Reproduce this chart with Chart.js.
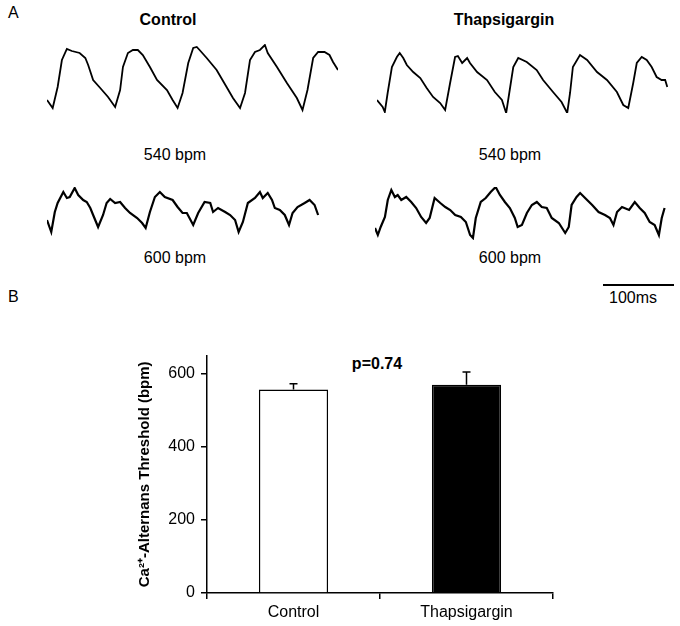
<!DOCTYPE html>
<html>
<head>
<meta charset="utf-8">
<script src="https://cdn.jsdelivr.net/npm/chart.js@4.4.1/dist/chart.umd.min.js"></script>
<style>
  body { margin: 0; background: #fff; }
  #fig { position: relative; width: 680px; height: 626px; font-family: "Liberation Sans", Arial, sans-serif; color: #000; }
  #fig canvas { position: absolute; }
  .lbl { position: absolute; white-space: nowrap; transform: translate(-50%, -50%); font-size: 16px; line-height: 1; }
  .b { font-weight: bold; }
  .panel { position: absolute; font-size: 16px; line-height: 1; }
  #scalebar { position: absolute; left: 603px; top: 284px; width: 71px; height: 2px; background: #000; }
</style>
</head>
<body>
<div id="fig">
  <div class="panel" style="left:8px; top:5px;">A</div>
  <div class="panel" style="left:8px; top:289px;">B</div>
  <div class="lbl b" style="left:168px; top:20px;">Control</div>
  <div class="lbl b" style="left:504px; top:20px;">Thapsigargin</div>
  <div class="lbl" style="left:175px; top:155px;">540 bpm</div>
  <div class="lbl" style="left:510px; top:155px;">540 bpm</div>
  <div class="lbl" style="left:175px; top:258px;">600 bpm</div>
  <div class="lbl" style="left:510px; top:258px;">600 bpm</div>
  <div id="scalebar"></div>
  <div class="lbl" style="left:633px; top:298px;">100ms</div>
  <div class="lbl b" style="left:377px; top:364px;">p=0.74</div>

  <canvas id="c540" width="297" height="75" style="left:44px; top:41px;"></canvas>
  <canvas id="t540" width="297" height="75" style="left:374px; top:41px;"></canvas>
  <canvas id="c600" width="297" height="59" style="left:44px; top:184px;"></canvas>
  <canvas id="t600" width="297" height="59" style="left:372px; top:184px;"></canvas>
  <canvas id="bars" width="680" height="286" style="left:0px; top:340px;"></canvas>
</div>

<script>
// Panel A traces: time (ms) and Ca2+ signal (arbitrary units, trough = 0)
const ctrl540Time = [0,8,15,21,28,35,46,54,58,65,75,86,96,103,107,114,121,128,135,145,155,169,177,184,191,199,206,211,215,225,239,253,262,272,279,286,293,300,307,311,324,338,352,360,367,375,382,391,398,403,410];
const ctrl540Sig  = [13,5,26,53,64,62,60,55,48,33,25,16,6,23,46,60,63,63,58,46,33,23,13,5,20,50,65,66,63,55,43,26,15,5,20,53,61,63,68,60,46,30,15,3,23,55,61,61,58,51,43];

const thap540Time = [0,8,11,15,21,28,32,37,42,51,61,70,79,89,96,103,110,114,120,127,131,141,155,166,176,182,187,192,199,211,225,234,248,260,268,272,276,286,296,310,324,338,347,354,361,366,373,380,387,394,401,406,409];
const thap540Sig  = [13,6,1,20,46,56,60,55,48,41,35,25,16,10,3,30,56,57,50,55,50,41,33,21,13,0,23,46,55,51,43,33,21,11,0,20,46,58,53,41,33,21,8,5,30,50,56,53,46,36,33,33,26];

const ctrl600Time = [0,6,11,15,23,28,32,39,44,51,56,61,65,72,79,84,89,96,103,110,117,127,134,139,145,152,159,166,177,184,191,197,206,213,222,230,234,241,251,258,265,270,276,283,293,300,304,311,317,321,328,335,341,346,353,363,370,377,382];
const ctrl600Sig  = [20,8,28,37,48,42,43,52,45,40,38,32,25,13,25,37,41,37,38,32,27,22,17,12,28,43,48,43,40,33,27,27,15,27,38,37,28,32,28,25,20,8,18,37,42,48,42,47,40,32,30,25,15,27,33,37,40,35,25];

const thap600Time = [0,4,8,14,18,23,28,32,37,44,51,58,65,72,77,84,92,99,106,113,121,128,134,138,142,149,156,163,170,176,183,190,197,201,207,214,221,228,235,242,249,259,268,273,277,284,289,296,306,315,324,331,336,341,348,358,366,373,380,387,394,400,404,408];
const thap600Sig  = [12,5,13,23,40,50,43,45,40,43,38,32,23,17,22,42,37,33,30,25,23,18,5,2,22,38,42,48,53,45,38,32,22,13,15,27,35,38,33,32,22,17,7,13,35,43,47,42,35,28,25,22,15,28,33,30,38,32,27,18,15,5,22,32];

// Panel B
const groups = ['Control', 'Thapsigargin'];
const thresholdMean = [557, 570];
const thresholdErr = [16, 35];
const yTicks = [0, 200, 400, 600];

const FONT = '"Liberation Sans", Arial, sans-serif';

function traceChart(id, times, sig, yMax, lw) {
  const pts = times.map((t, i) => ({ x: t, y: sig[i] }));
  return new Chart(document.getElementById(id), {
    type: 'line',
    data: { datasets: [{ data: pts, borderColor: '#000', borderWidth: lw, pointRadius: 0, tension: 0, fill: false }] },
    options: {
      responsive: false,
      animation: false,
      devicePixelRatio: 1,
      layout: { padding: 3 },
      plugins: { legend: { display: false }, tooltip: { enabled: false } },
      scales: {
        x: { type: 'linear', min: 0, max: 410, display: false },
        y: { min: 0, max: yMax, display: false }
      }
    }
  });
}

traceChart('c540', ctrl540Time, ctrl540Sig, 69, 1.8);
traceChart('t540', thap540Time, thap540Sig, 69, 1.8);
traceChart('c600', ctrl600Time, ctrl600Sig, 53, 2.2);
traceChart('t600', thap600Time, thap600Sig, 53, 2.2);

// upper error bars drawn from the bar scales
const errorBars = {
  id: 'errorBars',
  afterDatasetsDraw(chart) {
    const ctx = chart.ctx;
    const meta = chart.getDatasetMeta(0);
    const y = chart.scales.y;
    ctx.save();
    ctx.strokeStyle = '#000';
    ctx.lineWidth = 1.5;
    meta.data.forEach((bar, i) => {
      const top = y.getPixelForValue(thresholdMean[i] + thresholdErr[i]);
      ctx.beginPath();
      ctx.moveTo(bar.x, bar.y);
      ctx.lineTo(bar.x, top);
      ctx.moveTo(bar.x - 4, top);
      ctx.lineTo(bar.x + 4, top);
      ctx.stroke();
    });
    ctx.restore();
  }
};

new Chart(document.getElementById('bars'), {
  type: 'bar',
  data: {
    labels: groups,
    datasets: [{
      data: thresholdMean,
      backgroundColor: ['#fff', '#000'],
      borderColor: '#000',
      borderWidth: 1.5,
      borderSkipped: 'bottom',
      barPercentage: 0.4,
      categoryPercentage: 1
    }]
  },
  options: {
    responsive: false,
    animation: false,
    devicePixelRatio: 1,
    layout: { padding: { left: 132, right: 127, top: 13, bottom: 0 } },
    plugins: { legend: { display: false }, tooltip: { enabled: false } },
    scales: {
      x: {
        afterFit: (s) => { s.height = 33; },
        grid: { display: true, offset: true, drawOnChartArea: false, drawTicks: true, tickLength: 6, color: '#000', lineWidth: 1.5 },
        border: { display: true, color: '#000', width: 1.5 },
        ticks: { color: '#000', font: { family: FONT, size: 16 }, padding: 4 }
      },
      y: {
        min: 0,
        max: 650,
        afterFit: (s) => { s.width = 75; },
        afterBuildTicks: (s) => { s.ticks = yTicks.map(v => ({ value: v })); },
        grid: { display: true, drawOnChartArea: false, drawTicks: true, tickLength: 6, color: '#000', lineWidth: 1.5 },
        border: { display: true, color: '#000', width: 1.5 },
        ticks: { color: '#000', font: { family: FONT, size: 16 }, padding: 6 },
        title: {
          display: true,
          text: 'Ca²⁺-Alternans Threshold (bpm)',
          color: '#000',
          font: { family: FONT, size: 15, weight: 'bold' }
        }
      }
    }
  },
  plugins: [errorBars]
});
</script>
</body>
</html>
